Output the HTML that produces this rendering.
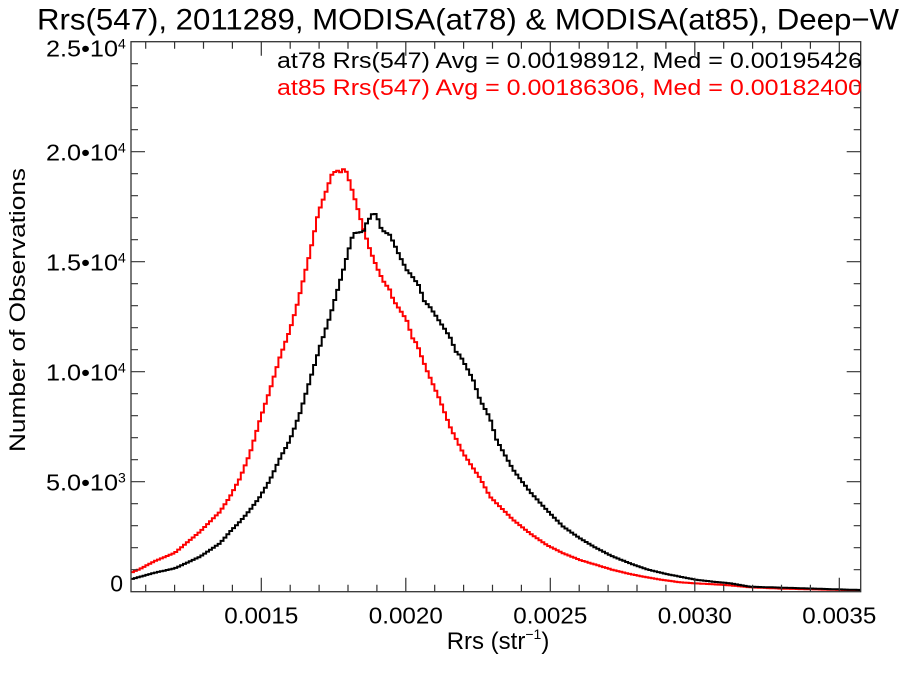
<!DOCTYPE html>
<html>
<head>
<meta charset="utf-8">
<style>
html,body{margin:0;padding:0;background:#fff;}
svg{display:block;}
text{font-family:"Liberation Sans",Arial,sans-serif;}
</style>
</head>
<body>
<svg id="chart" width="900" height="675" viewBox="0 0 900 675" xmlns="http://www.w3.org/2000/svg">
<rect width="900" height="675" fill="#fff"/>
<!-- Title -->
<text x="37" y="29.5" font-size="30" fill="#000" textLength="862" lengthAdjust="spacingAndGlyphs">Rrs(547), 2011289, MODISA(at78) &amp; MODISA(at85), Deep−W</text>

<!-- Curves -->
<g fill="none" stroke-width="2" stroke-linejoin="miter">
<polyline id="red" stroke="#ff0000" points="131,572.7 140,569 155,561 175,552.7 200,531.7 220,511.7 230,496.7 240,478.3 250,453.3 260,420 270,390 280,357 290,330 296.7,306.7 310,253 318.3,213 326.7,190 331.7,175 336.7,170 340,173 343,169 346.7,172 350,183 356.7,205 363.3,228 370,250 376.7,266.7 383.3,281 390,290 393.3,300 406.7,320 413.3,340 416.7,343 421.7,357 426.7,370 440,400 450,426.7 463.3,453.3 476.7,473.3 480,478 490,496.7 496.7,503.3 513.3,520 530,533.3 546.7,545 563.3,553.3 580,560 596.7,565 613.3,570 630,574 646.7,577.3 663.3,580 680,582.3 695,583.3 713.3,584.3 730,585.3 750,587.3 783.3,588.7 820,589.5 860,590.3"/>
<polyline id="blk" stroke="#000000" points="131,579.3 155,572.7 175,568.3 200,556.7 220,543.3 230,531.7 240,521.7 250,510 260,496.7 270,480 280,458.3 290,440 300,413.3 310,380 320,346.7 330,316.7 343.3,270 353.3,233.3 363.3,231.7 366.7,223 373.3,212.7 376.7,215 381.7,230 390,235 400,256.7 406.7,270 410,273.3 420,287 423.3,300 430,307 440,322 450,337 456.7,353.3 460,355 473.3,380 480,400 490,418 496.7,440 513.3,470 530,491.7 546.7,510 563.3,526.7 580,538.3 596.7,548.3 613.3,556.7 630,563.3 646.7,569.3 663.3,573.3 680,576.7 696.7,579.8 713.3,581.7 730,583.3 750,586.7 783.3,587.7 816.7,588.7 860,590"/>
</g>

<!-- Frame -->
<rect x="131" y="41.7" width="729.7" height="550" fill="none" stroke="#333" stroke-width="1.3"/>

<!-- X ticks -->
<g stroke="#333" stroke-width="1.2">
<path d="M145.7,591.7v-7 M174.6,591.7v-7 M203.5,591.7v-7 M232.4,591.7v-7 M261.3,591.7v-14 M290.2,591.7v-7 M319.1,591.7v-7 M348,591.7v-7 M376.9,591.7v-7 M405.8,591.7v-14 M434.7,591.7v-7 M463.6,591.7v-7 M492.5,591.7v-7 M521.4,591.7v-7 M550.3,591.7v-14 M579.2,591.7v-7 M608.1,591.7v-7 M637,591.7v-7 M665.9,591.7v-7 M694.8,591.7v-14 M723.7,591.7v-7 M752.6,591.7v-7 M781.5,591.7v-7 M810.4,591.7v-7 M839.3,591.7v-14"/>
<path d="M145.7,41.7v7 M174.6,41.7v7 M203.5,41.7v7 M232.4,41.7v7 M261.3,41.7v14 M290.2,41.7v7 M319.1,41.7v7 M348,41.7v7 M376.9,41.7v7 M405.8,41.7v14 M434.7,41.7v7 M463.6,41.7v7 M492.5,41.7v7 M521.4,41.7v7 M550.3,41.7v14 M579.2,41.7v7 M608.1,41.7v7 M637,41.7v7 M665.9,41.7v7 M694.8,41.7v14 M723.7,41.7v7 M752.6,41.7v7 M781.5,41.7v7 M810.4,41.7v7 M839.3,41.7v14"/>
<!-- Y ticks left -->
<path d="M131,569.7h7 M131,547.7h7 M131,525.7h7 M131,503.7h7 M131,481.7h14 M131,459.7h7 M131,437.7h7 M131,415.7h7 M131,393.7h7 M131,371.7h14 M131,349.7h7 M131,327.7h7 M131,305.7h7 M131,283.7h7 M131,261.7h14 M131,239.7h7 M131,217.7h7 M131,195.7h7 M131,173.7h7 M131,151.7h14 M131,129.7h7 M131,107.7h7 M131,85.7h7 M131,63.7h7"/>
<!-- Y ticks right -->
<path d="M860.7,569.7h-7 M860.7,547.7h-7 M860.7,525.7h-7 M860.7,503.7h-7 M860.7,481.7h-14 M860.7,459.7h-7 M860.7,437.7h-7 M860.7,415.7h-7 M860.7,393.7h-7 M860.7,371.7h-14 M860.7,349.7h-7 M860.7,327.7h-7 M860.7,305.7h-7 M860.7,283.7h-7 M860.7,261.7h-14 M860.7,239.7h-7 M860.7,217.7h-7 M860.7,195.7h-7 M860.7,173.7h-7 M860.7,151.7h-14 M860.7,129.7h-7 M860.7,107.7h-7 M860.7,85.7h-7 M860.7,63.7h-7"/>
</g>

<!-- X tick labels -->
<g font-size="23" fill="#000">
<text x="224.3" y="623.5" textLength="74" lengthAdjust="spacingAndGlyphs">0.0015</text>
<text x="368.8" y="623.5" textLength="74" lengthAdjust="spacingAndGlyphs">0.0020</text>
<text x="513.3" y="623.5" textLength="74" lengthAdjust="spacingAndGlyphs">0.0025</text>
<text x="657.8" y="623.5" textLength="74" lengthAdjust="spacingAndGlyphs">0.0030</text>
<text x="802.3" y="623.5" textLength="74" lengthAdjust="spacingAndGlyphs">0.0035</text>
</g>

<!-- Y tick labels -->
<g font-size="23" fill="#000">
<text x="46" y="56.5" textLength="72" lengthAdjust="spacingAndGlyphs">2.5•10</text><text x="118" y="48.5" font-size="14">4</text>
<text x="46" y="160.7" textLength="72" lengthAdjust="spacingAndGlyphs">2.0•10</text><text x="118" y="152.7" font-size="14">4</text>
<text x="46" y="270.7" textLength="72" lengthAdjust="spacingAndGlyphs">1.5•10</text><text x="118" y="262.7" font-size="14">4</text>
<text x="46" y="380.7" textLength="72" lengthAdjust="spacingAndGlyphs">1.0•10</text><text x="118" y="372.7" font-size="14">4</text>
<text x="46" y="490.7" textLength="72" lengthAdjust="spacingAndGlyphs">5.0•10</text><text x="118" y="482.7" font-size="14">3</text>
<text x="123" y="591.7" text-anchor="end">0</text>
</g>

<!-- Axis titles -->
<text x="446.7" y="649" font-size="24" fill="#000">Rrs (str<tspan font-size="14" dy="-10">−1</tspan><tspan dy="10">)</tspan></text>
<text transform="translate(25,310) rotate(-90)" text-anchor="middle" font-size="22" fill="#000" textLength="284" lengthAdjust="spacingAndGlyphs">Number of Observations</text>

<!-- Legend text -->
<text x="277" y="68" font-size="22" fill="#000" textLength="585" lengthAdjust="spacingAndGlyphs">at78 Rrs(547) Avg = 0.00198912, Med = 0.00195426</text>
<text x="277" y="95" font-size="22" fill="#ff0000" textLength="585" lengthAdjust="spacingAndGlyphs">at85 Rrs(547) Avg = 0.00186306, Med = 0.00182400</text>
</svg>
<script>
(function(){
  function stepify(id){
    var pl=document.getElementById(id);
    if(!pl) return;
    var pts=pl.getAttribute('points').trim().split(/\s+/).map(function(p){var a=p.split(',');return [parseFloat(a[0]),parseFloat(a[1])];});
    function interp(x){
      if(x<=pts[0][0]) return pts[0][1];
      for(var i=1;i<pts.length;i++){
        if(x<=pts[i][0]){
          var t=(x-pts[i-1][0])/(pts[i][0]-pts[i-1][0]);
          return pts[i-1][1]+t*(pts[i][1]-pts[i-1][1]);
        }
      }
      return pts[pts.length-1][1];
    }
    var w=2.89, x0=131, xe=860.7;
    var d='M'+x0+','+interp(x0+w/2).toFixed(1);
    for(var x=x0;x<xe;x+=w){
      var y=interp(x+w/2);
      var xn=Math.min(x+w,xe);
      d+='V'+y.toFixed(1)+'H'+xn.toFixed(1);
    }
    var p=document.createElementNS('http://www.w3.org/2000/svg','path');
    p.setAttribute('d',d);
    p.setAttribute('stroke',pl.getAttribute('stroke'));
    p.setAttribute('fill','none');
    p.setAttribute('stroke-width','2');
    pl.parentNode.replaceChild(p,pl);
  }
  stepify('red');stepify('blk');
})();
</script>
</body>
</html>
